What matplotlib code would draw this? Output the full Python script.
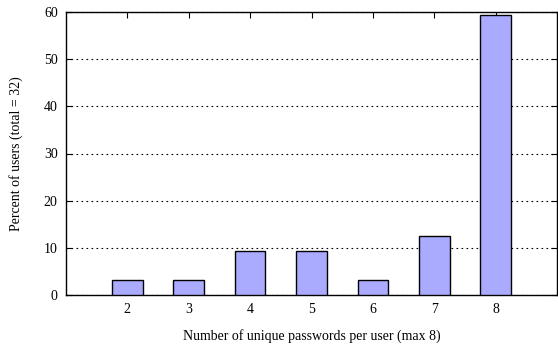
import matplotlib
matplotlib.use("Agg")
import matplotlib.pyplot as plt

categories = [2, 3, 4, 5, 6, 7, 8]
percent = [3.125, 3.125, 9.375, 9.375, 3.125, 12.5, 59.375]
yticks = [0, 10, 20, 30, 40, 50, 60]

plt.rcParams['font.family'] = ['Liberation Serif', 'DejaVu Serif']
fig = plt.figure(figsize=(5.58, 3.48), dpi=100)
ax = fig.add_axes([66/558, 53/348, 491/558, 283/348])

ax.bar(categories, percent, width=0.5, color='#aaaaff', edgecolor='black', linewidth=1.0, zorder=3)
ax.set_xlim(1, 9)
ax.set_ylim(0, 60)
ax.set_yticks(yticks)
ax.set_xticks(categories)
ax.yaxis.grid(True, linestyle=(0, (1.5, 3)), color='black', linewidth=0.8, zorder=0)
ax.tick_params(axis='y', direction='in', left=True, right=True, length=4, labelsize=10, width=0.8, pad=6)
ax.tick_params(axis='x', direction='in', top=True, bottom=False, length=4, labelsize=10, width=0.8, pad=6)
for s in ax.spines.values():
    s.set_linewidth(1.0)
ax.set_xlabel('Number of unique passwords per user (max 8)', fontsize=10, labelpad=9)
ax.set_ylabel('Percent of users (total = 32)', fontsize=10, labelpad=15)
fig.savefig('out.png', dpi=100)
